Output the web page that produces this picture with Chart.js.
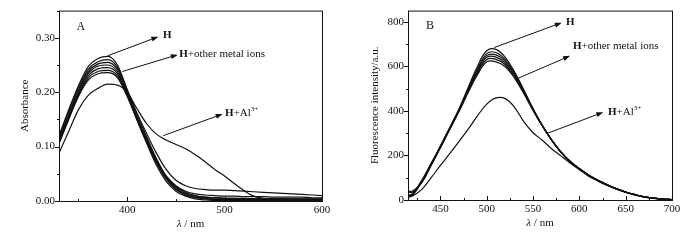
<!DOCTYPE html>
<html>
<head>
<meta charset="utf-8">
<script src="https://cdn.jsdelivr.net/npm/chart.js@4/dist/chart.umd.min.js"></script>
<style>
  html, body { margin: 0; padding: 0; background: #fff; }
  #wrap { position: relative; width: 700px; height: 240px; }
  canvas { position: absolute; top: 0; }
</style>
</head>
<body>
<div id="wrap">
  <canvas id="absorbance" width="350" height="240" style="left:0"></canvas>
  <canvas id="fluorescence" width="350" height="240" style="left:350px"></canvas>
</div>
<script>
// ---- panel A: absorption spectra ----
const wavelengthA = [330, 340, 350, 360, 370, 380, 390, 400, 410, 420, 430, 440, 450, 460,
                     470, 480, 490, 500, 510, 520, 530, 540, 550, 560, 570, 580, 590, 600];
const absH   = [0.120, 0.168, 0.212, 0.247, 0.262, 0.266, 0.250, 0.205, 0.160, 0.118, 0.078, 0.046, 0.027, 0.016, 0.010, 0.007, 0.006, 0.005, 0.005, 0.004, 0.004, 0.004, 0.003, 0.003, 0.003, 0.003, 0.003, 0.003];
const absM1  = [0.116, 0.165, 0.208, 0.242, 0.256, 0.260, 0.246, 0.204, 0.162, 0.124, 0.088, 0.058, 0.038, 0.028, 0.023, 0.021, 0.020, 0.020, 0.019, 0.018, 0.017, 0.016, 0.015, 0.014, 0.013, 0.012, 0.011, 0.010];
const absM2  = [0.112, 0.160, 0.204, 0.238, 0.252, 0.255, 0.242, 0.200, 0.155, 0.114, 0.076, 0.046, 0.028, 0.018, 0.013, 0.011, 0.010, 0.009, 0.009, 0.008, 0.008, 0.008, 0.007, 0.007, 0.007, 0.007, 0.006, 0.006];
const absM3  = [0.108, 0.156, 0.200, 0.234, 0.248, 0.250, 0.238, 0.198, 0.152, 0.110, 0.070, 0.040, 0.021, 0.011, 0.006, 0.004, 0.003, 0.003, 0.002, 0.002, 0.002, 0.002, 0.002, 0.002, 0.002, 0.002, 0.002, 0.002];
const absM4  = [0.105, 0.152, 0.196, 0.230, 0.243, 0.245, 0.234, 0.195, 0.149, 0.106, 0.066, 0.036, 0.018, 0.009, 0.004, 0.002, 0.001, 0.001, 0.001, 0.001, 0.001, 0.001, 0.001, 0.001, 0.001, 0.001, 0.001, 0.001];
const absM5  = [0.110, 0.154, 0.195, 0.226, 0.238, 0.240, 0.230, 0.194, 0.151, 0.111, 0.074, 0.044, 0.025, 0.014, 0.009, 0.007, 0.006, 0.005, 0.005, 0.005, 0.004, 0.004, 0.004, 0.004, 0.004, 0.004, 0.004, 0.004];
const absM6  = [0.106, 0.150, 0.192, 0.222, 0.234, 0.236, 0.227, 0.192, 0.150, 0.109, 0.072, 0.042, 0.023, 0.012, 0.007, 0.005, 0.004, 0.004, 0.003, 0.003, 0.003, 0.003, 0.003, 0.003, 0.003, 0.003, 0.003, 0.003];
const absAl  = [0.088, 0.128, 0.168, 0.194, 0.207, 0.215, 0.213, 0.200, 0.170, 0.142, 0.123, 0.112, 0.104, 0.096, 0.085, 0.072, 0.058, 0.046, 0.032, 0.019, 0.009, 0.005, 0.004, 0.004, 0.003, 0.003, 0.003, 0.003];
const xTicksA = [400, 500, 600];
const xMinorA = [350, 450, 550];
const yTicksA = [0, 0.1, 0.2, 0.3];
const yMinorA = [0.05, 0.15, 0.25, 0.35];

// ---- panel B: fluorescence spectra ----
const wavelengthB = [415, 420, 430, 440, 450, 460, 470, 480, 490, 500, 510, 520, 530, 540, 550,
                     560, 570, 580, 590, 600, 610, 620, 630, 640, 650, 660, 670, 680, 690, 700];
const fluH  = [22, 28, 90, 165, 240, 322, 408, 505, 600, 670, 676, 640, 575, 495, 410, 335, 270, 215, 172, 140, 110, 88, 68, 50, 36, 24, 14, 8, 4, 2];
const fluM1 = [40, 40, 78, 158, 236, 318, 403, 498, 588, 657, 662, 630, 568, 490, 407, 333, 269, 214, 171, 139, 110, 87, 67, 50, 36, 24, 14, 8, 4, 2];
const fluM2 = [18, 24, 84, 160, 240, 322, 405, 496, 582, 648, 651, 622, 563, 487, 406, 334, 270, 216, 173, 140, 111, 88, 68, 50, 36, 24, 14, 8, 4, 2];
const fluM3 = [15, 22, 82, 158, 238, 320, 402, 492, 576, 640, 641, 614, 557, 484, 405, 333, 270, 216, 173, 141, 111, 88, 68, 50, 36, 24, 14, 8, 4, 2];
const fluM4 = [16, 23, 85, 162, 243, 324, 404, 490, 571, 631, 631, 607, 553, 482, 404, 333, 270, 216, 174, 141, 112, 89, 69, 51, 36, 24, 14, 8, 4, 2];
const fluM5 = [35, 36, 80, 155, 235, 316, 396, 482, 562, 620, 620, 598, 547, 478, 402, 332, 269, 216, 174, 141, 112, 89, 69, 51, 36, 24, 14, 8, 4, 2];
const fluAl = [12, 18, 48, 100, 155, 208, 262, 318, 378, 430, 458, 455, 416, 352, 302, 268, 230, 198, 166, 136, 107, 85, 65, 48, 34, 22, 13, 7, 3, 1];
const xTicksB = [450, 500, 550, 600, 650, 700];
const xMinorB = [425, 475, 525, 575, 625, 675];
const yTicksB = [0, 200, 400, 600, 800];
const yMinorB = [100, 300, 500, 700];

// arrows + labels, in data units (arrow start, arrow tip, label left/middle)
const notesA = [
  { from: [380, 0.267], to: [432, 0.302], label: [436.8, 0.304], parts: [['H', 'b']] },
  { from: [395, 0.238], to: [452, 0.269], label: [453.5, 0.270], parts: [['H', 'b'], ['+other metal ions', '']] },
  { from: [437, 0.120], to: [498, 0.160], label: [500.5, 0.161], parts: [['H', 'b'], ['+Al', ''], ['3+', 'sup']] }
];
const notesB = [
  { from: [508, 684], to: [581, 796], label: [585.6, 797], parts: [['H', 'b']] },
  { from: [532, 543], to: [590, 647], label: [593, 692], parts: [['H', 'b'], ['+other metal ions', '']] },
  { from: [564.7, 298], to: [625.8, 394], label: [630.9, 394], parts: [['H', 'b'], ['+Al', ''], ['3+', 'sup']] }
];

const serif = "'Liberation Serif', 'Times New Roman', serif";
const ink = '#111';

function fontStr(kind, size) {
  if (kind === 'b') return 'bold ' + size + 'px ' + serif;
  if (kind === 'i') return 'italic ' + size + 'px ' + serif;
  return size + 'px ' + serif;
}

// frame, ticks (y outward, x inward), axis titles and annotations
function framePlugin(o) {
  return {
    id: 'frame',
    afterDraw(chart) {
      const { ctx, chartArea: a, scales } = chart;
      const sx = scales.x, sy = scales.y;
      ctx.save();
      ctx.strokeStyle = ink;
      ctx.fillStyle = ink;
      ctx.lineWidth = 1;
      ctx.strokeRect(a.left + 0.5, a.top + 0.5, a.right - a.left, a.bottom - a.top);

      ctx.beginPath();
      o.yMajor.forEach(v => { const p = Math.round(sy.getPixelForValue(v)) + 0.5; ctx.moveTo(a.left, p); ctx.lineTo(a.left - 4, p); });
      o.yMinor.forEach(v => { const p = Math.round(sy.getPixelForValue(v)) + 0.5; ctx.moveTo(a.left, p); ctx.lineTo(a.left - 2, p); });
      o.xMajor.forEach(v => { const p = Math.round(sx.getPixelForValue(v)) + 0.5; ctx.moveTo(p, a.bottom); ctx.lineTo(p, a.bottom - 4); });
      o.xMinor.forEach(v => { const p = Math.round(sx.getPixelForValue(v)) + 0.5; ctx.moveTo(p, a.bottom); ctx.lineTo(p, a.bottom - 2); });
      ctx.stroke();

      // y title
      ctx.save();
      ctx.translate(25, (a.top + a.bottom) / 2);
      ctx.rotate(-Math.PI / 2);
      ctx.font = fontStr('', 11);
      ctx.textAlign = 'center';
      ctx.textBaseline = 'middle';
      ctx.fillText(o.yTitle, 0, 0);
      ctx.restore();

      // x title: italic lambda + " / nm"
      ctx.textBaseline = 'middle';
      ctx.textAlign = 'left';
      ctx.font = fontStr('i', 11);
      const w1 = ctx.measureText('λ').width;
      ctx.font = fontStr('', 11);
      const w2 = ctx.measureText(' / nm').width;
      const tx = (a.left + a.right) / 2 - (w1 + w2) / 2;
      const ty = a.bottom + 23;
      ctx.font = fontStr('i', 11);
      ctx.fillText('λ', tx, ty);
      ctx.font = fontStr('', 11);
      ctx.fillText(' / nm', tx + w1, ty);

      // panel letter
      ctx.font = fontStr('', 12);
      ctx.textAlign = 'center';
      ctx.fillText(o.letter[0], sx.getPixelForValue(o.letter[1]), sy.getPixelForValue(o.letter[2]));

      // arrows with labels
      ctx.textAlign = 'left';
      o.notes.forEach(n => {
        const x1 = sx.getPixelForValue(n.from[0]), y1 = sy.getPixelForValue(n.from[1]);
        const x2 = sx.getPixelForValue(n.to[0]), y2 = sy.getPixelForValue(n.to[1]);
        const ang = Math.atan2(y2 - y1, x2 - x1);
        const c = Math.cos(ang), s = Math.sin(ang);
        ctx.beginPath();
        ctx.moveTo(x1, y1);
        ctx.lineTo(x2 - 5 * c, y2 - 5 * s);
        ctx.stroke();
        ctx.beginPath();
        ctx.moveTo(x2, y2);
        ctx.lineTo(x2 - 7 * c + 2.5 * s, y2 - 7 * s - 2.5 * c);
        ctx.lineTo(x2 - 7 * c - 2.5 * s, y2 - 7 * s + 2.5 * c);
        ctx.closePath();
        ctx.fill();

        let lx = sx.getPixelForValue(n.label[0]);
        const ly = sy.getPixelForValue(n.label[1]);
        n.parts.forEach(([t, k]) => {
          if (k === 'sup') {
            ctx.font = fontStr('', 7);
            ctx.fillText(t, lx, ly - 4);
          } else {
            ctx.font = fontStr(k, 11);
            ctx.fillText(t, lx, ly);
          }
          lx += ctx.measureText(t).width;
        });
      });
      ctx.restore();
    }
  };
}

function makeSeries(xs, list, smooth) {
  return list.map(ys => ({
    data: xs.map((x, i) => ({ x: x, y: ys[i] })),
    borderColor: ink,
    borderWidth: 1.2,
    pointRadius: 0,
    fill: false,
    ...smooth
  }));
}

function makeChart(id, cfg) {
  const tickFont = { family: serif, size: 11 };
  new Chart(document.getElementById(id).getContext('2d'), {
    type: 'line',
    data: { datasets: makeSeries(cfg.xs, cfg.series, cfg.smooth) },
    options: {
      responsive: false,
      devicePixelRatio: 1,
      animation: false,
      layout: { padding: { left: 0, right: cfg.padRight, top: 9, bottom: 0 } },
      plugins: {
        legend: { display: false },
        tooltip: { enabled: false }
      },
      scales: {
        x: {
          type: 'linear', min: cfg.xMin, max: cfg.xMax,
          grid: { display: false, drawTicks: false }, border: { display: false },
          ticks: { font: tickFont, color: ink, padding: 3, maxRotation: 0 },
          afterBuildTicks: s => { s.ticks = cfg.frame.xMajor.map(v => ({ value: v })); },
          afterFit: s => { s.height = cfg.xAxisH; }
        },
        y: {
          type: 'linear', min: 0, max: cfg.yMax,
          grid: { display: false, drawTicks: false }, border: { display: false },
          ticks: { font: tickFont, color: ink, padding: 4, callback: cfg.yFmt },
          afterBuildTicks: s => { s.ticks = cfg.frame.yMajor.map(v => ({ value: v })); },
          afterFit: s => { s.width = cfg.yAxisW; }
        }
      }
    },
    plugins: [framePlugin(cfg.frame)]
  });
}

makeChart('absorbance', {
  xs: wavelengthA,
  series: [absM6, absM5, absM4, absM3, absM2, absM1, absH, absAl],
  smooth: { cubicInterpolationMode: 'monotone' },
  xMin: 330, xMax: 600, yMax: 0.35,
  padRight: 28, xAxisH: 39, yAxisW: 59,
  yFmt: v => v.toFixed(2),
  frame: { xMajor: xTicksA, xMinor: xMinorA, yMajor: yTicksA, yMinor: yMinorA,
           yTitle: 'Absorbance', letter: ['A', 352.4, 0.32], notes: notesA }
});

makeChart('fluorescence', {
  xs: wavelengthB,
  series: [fluM5, fluM4, fluM3, fluM2, fluM1, fluH, fluAl],
  smooth: { tension: 0.4 },
  xMin: 415, xMax: 700, yMax: 850,
  padRight: 28, xAxisH: 40, yAxisW: 58,
  yFmt: v => String(v),
  frame: { xMajor: xTicksB, xMinor: xMinorB, yMajor: yTicksB, yMinor: yMinorB,
           yTitle: 'Fluorescence intensity/a.u.', letter: ['B', 438.7, 781], notes: notesB }
});
</script>
</body>
</html>
